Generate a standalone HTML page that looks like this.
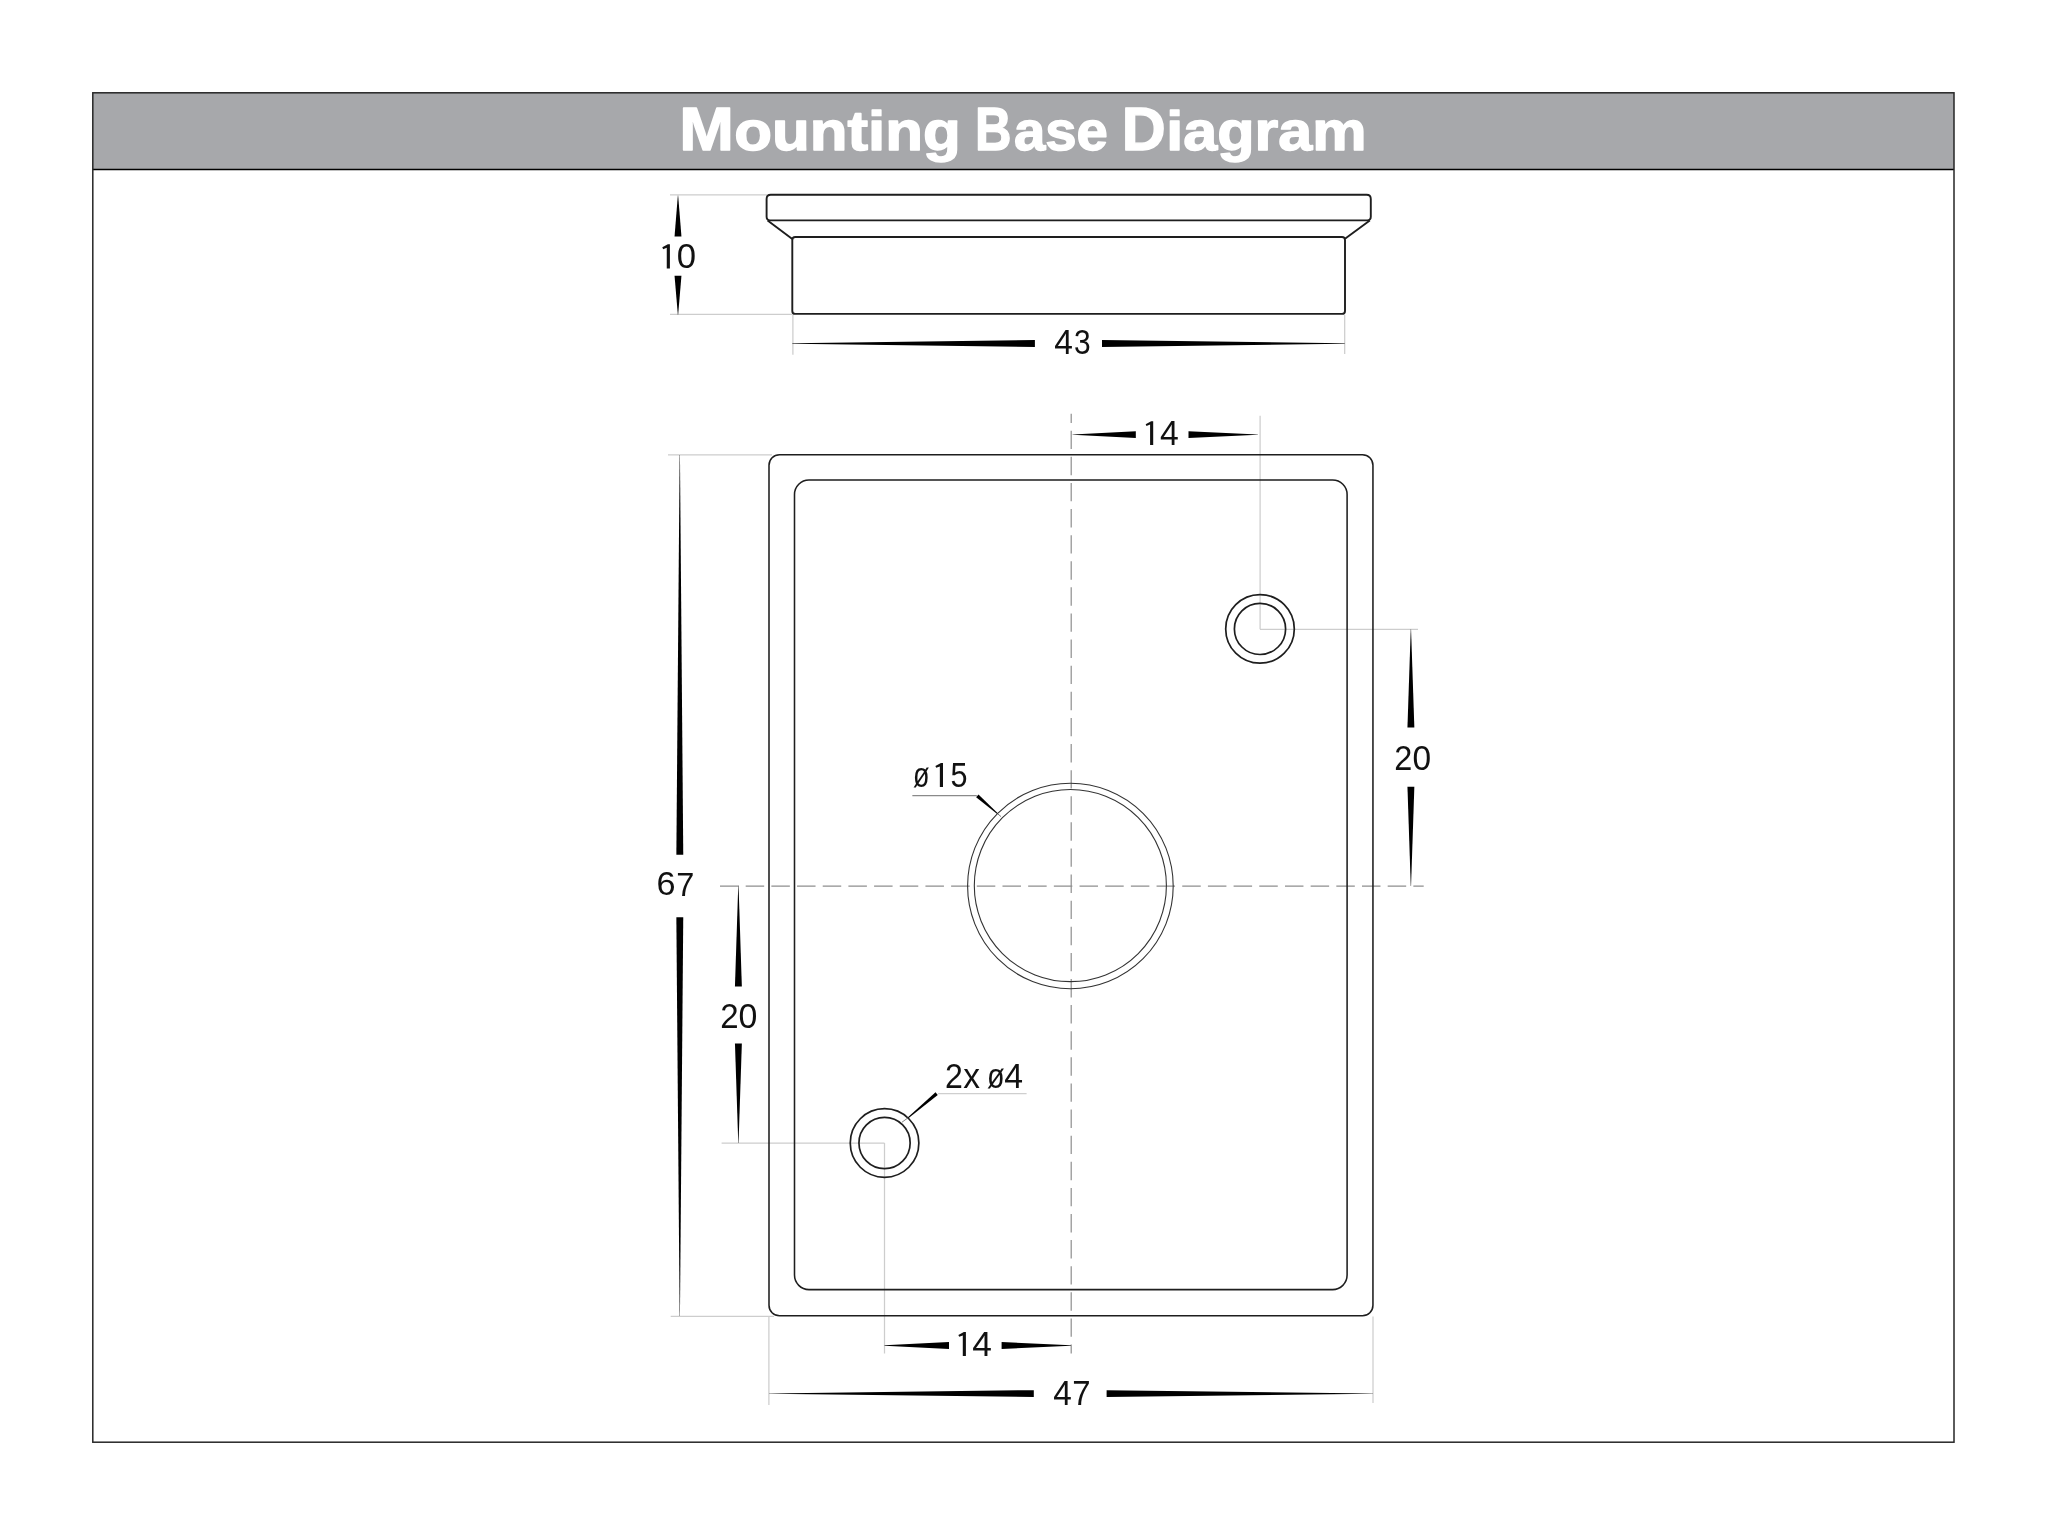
<!DOCTYPE html>
<html><head><meta charset="utf-8"><title>Mounting Base Diagram</title>
<style>html,body{margin:0;padding:0;background:#fff;width:2048px;height:1536px;overflow:hidden}svg{display:block;will-change:transform}text{font-family:"Liberation Sans",sans-serif}</style>
</head><body>
<svg width="2048" height="1536" viewBox="0 0 2048 1536" font-family="Liberation Sans, sans-serif">
<rect x="0" y="0" width="2048" height="1536" fill="#fff"/>
<rect x="92.8" y="92.8" width="1861.2" height="76.6" fill="#a7a8ab"/>
<line x1="92.80" y1="169.50" x2="1954.00" y2="169.50" stroke="#000" stroke-width="1.35" />
<rect x="92.8" y="92.8" width="1861.2" height="1349.4" fill="none" stroke="#262626" stroke-width="1.5"/>
<text transform="translate(679.21 150.40) scale(1.0804 1)" font-size="60.76" font-weight="bold" fill="#fff" stroke="#fff" stroke-width="1.4" stroke-linejoin="round">M</text>
<text transform="translate(734.29 150.40) scale(1.1209 1)" font-size="55.15" font-weight="bold" fill="#fff" stroke="#fff" stroke-width="1.4" stroke-linejoin="round">ounting</text>
<text transform="translate(975.12 150.40) scale(0.8312 1)" font-size="60.76" font-weight="bold" fill="#fff" stroke="#fff" stroke-width="1.4" stroke-linejoin="round">B</text>
<text transform="translate(1013.95 150.40) scale(1.0214 1)" font-size="55.15" font-weight="bold" fill="#fff" stroke="#fff" stroke-width="1.4" stroke-linejoin="round">ase</text>
<text transform="translate(1121.83 150.40) scale(1.0010 1)" font-size="60.76" font-weight="bold" fill="#fff" stroke="#fff" stroke-width="1.4" stroke-linejoin="round">D</text>
<text transform="translate(1166.23 150.40) scale(1.1085 1)" font-size="55.15" font-weight="bold" fill="#fff" stroke="#fff" stroke-width="1.4" stroke-linejoin="round">iagram</text>
<line x1="670.00" y1="194.90" x2="767.00" y2="194.90" stroke="#cdcdcd" stroke-width="1.25" />
<line x1="670.00" y1="314.40" x2="792.00" y2="314.40" stroke="#cdcdcd" stroke-width="1.25" />
<line x1="792.90" y1="314.50" x2="792.90" y2="354.70" stroke="#cdcdcd" stroke-width="1.25" />
<line x1="1344.70" y1="315.00" x2="1344.70" y2="354.00" stroke="#cdcdcd" stroke-width="1.25" />
<line x1="668.00" y1="454.80" x2="772.00" y2="454.80" stroke="#cdcdcd" stroke-width="1.25" />
<line x1="1260.10" y1="415.80" x2="1260.10" y2="629.30" stroke="#cdcdcd" stroke-width="1.25" />
<line x1="1260.00" y1="629.30" x2="1418.00" y2="629.30" stroke="#cdcdcd" stroke-width="1.25" />
<line x1="721.60" y1="1143.05" x2="884.50" y2="1143.05" stroke="#cdcdcd" stroke-width="1.25" />
<line x1="884.50" y1="1143.05" x2="884.50" y2="1353.50" stroke="#cdcdcd" stroke-width="1.25" />
<line x1="670.70" y1="1316.30" x2="774.00" y2="1316.30" stroke="#cdcdcd" stroke-width="1.25" />
<line x1="768.90" y1="1316.50" x2="768.90" y2="1405.00" stroke="#cdcdcd" stroke-width="1.25" />
<line x1="1373.00" y1="1316.50" x2="1373.00" y2="1403.00" stroke="#cdcdcd" stroke-width="1.25" />
<line x1="1071.20" y1="413.80" x2="1071.20" y2="1353.40" stroke="#8e8e8e" stroke-width="1.2" stroke-dasharray="18.4 7.71" stroke-dashoffset="9.21"/>
<line x1="720.00" y1="886.10" x2="1423.70" y2="886.10" stroke="#8e8e8e" stroke-width="1.2" stroke-dasharray="18.5 7.18"/>
<line x1="912.35" y1="795.65" x2="976.80" y2="795.65" stroke="#8a8a8a" stroke-width="1.1" />
<line x1="938.10" y1="1093.60" x2="1026.60" y2="1093.60" stroke="#cfcfcf" stroke-width="1.1" />
<path d="M770.80 194.70 H1366.60 Q1370.80 194.70 1370.80 198.90 V216.85 Q1370.80 220.35 1367.30 220.35 H770.10 Q766.60 220.35 766.60 216.85 V198.90 Q766.60 194.70 770.80 194.70 Z" fill="none" stroke="#1e1e1e" stroke-width="1.9"/>
<path d="M767.6 220.6 L792.3 239.0 M1369.8 220.6 L1345.0 238.8" fill="none" stroke="#1e1e1e" stroke-width="1.9"/>
<path d="M795.30 237.05 H1342.00 Q1345.00 237.05 1345.00 240.05 V310.90 Q1345.00 313.90 1342.00 313.90 H795.30 Q792.30 313.90 792.30 310.90 V240.05 Q792.30 237.05 795.30 237.05 Z" fill="none" stroke="#1e1e1e" stroke-width="1.9"/>
<path d="M677.85 195.40 L674.55 236.60 L681.45 236.60 L678.15 195.40 Z" fill="#000"/>
<path d="M677.85 314.80 L674.55 275.70 L681.45 275.70 L678.15 314.80 Z" fill="#000"/>
<path d="M669.90 244.35 L669.90 268.50 L666.76 268.50 L666.76 247.85 L663.14 249.30 L662.29 247.37 L667.85 244.35 Z" fill="#111"/>
<text transform="translate(676.84 268.30) scale(0.9970 1)" font-size="34.83" fill="#111">0</text>
<path d="M792.30 343.35 L1034.90 340.05 L1034.90 346.95 L792.30 343.65 Z" fill="#000"/>
<path d="M1344.70 343.35 L1102.00 340.05 L1102.00 346.95 L1344.70 343.65 Z" fill="#000"/>
<text transform="translate(1054.33 354.45) scale(0.9629 1)" font-size="34.83" fill="#111">4</text>
<text transform="translate(1074.06 354.25) scale(0.8599 1)" font-size="34.83" fill="#111">3</text>
<rect x="769.0" y="454.7" width="603.95" height="861.1" rx="10.5" fill="none" stroke="#1e1e1e" stroke-width="1.55"/>
<rect x="794.5" y="480.0" width="552.6" height="809.6" rx="14.5" fill="none" stroke="#1e1e1e" stroke-width="1.55"/>
<circle cx="1260" cy="628.9" r="34.3" fill="none" stroke="#1e1e1e" stroke-width="1.7"/>
<circle cx="1260" cy="628.9" r="25.6" fill="none" stroke="#1e1e1e" stroke-width="1.7"/>
<circle cx="884.55" cy="1143.0" r="34.3" fill="none" stroke="#1e1e1e" stroke-width="1.7"/>
<circle cx="884.55" cy="1143.0" r="25.6" fill="none" stroke="#1e1e1e" stroke-width="1.7"/>
<circle cx="1070.4" cy="886.0" r="102.8" fill="none" stroke="#333" stroke-width="1.1"/>
<circle cx="1070.35" cy="885.6" r="96.05" fill="none" stroke="#333" stroke-width="1.1"/>
<path d="M1072.50 434.45 L1135.80 431.15 L1135.80 438.05 L1072.50 434.75 Z" fill="#000"/>
<path d="M1258.00 434.45 L1188.50 431.15 L1188.50 438.05 L1258.00 434.75 Z" fill="#000"/>
<path d="M1153.20 421.15 L1153.20 445.10 L1150.09 445.10 L1150.09 424.62 L1146.49 426.06 L1145.66 424.14 L1151.16 421.15 Z" fill="#111"/>
<text transform="translate(1160.03 445.10) scale(0.9767 1)" font-size="34.54" fill="#111">4</text>
<path d="M679.65 455.00 L676.35 854.70 L683.25 854.70 L679.95 455.00 Z" fill="#000"/>
<path d="M679.65 1316.00 L676.35 917.20 L683.25 917.20 L679.95 1316.00 Z" fill="#000"/>
<text transform="translate(656.46 895.40) scale(1.0103 1)" font-size="33.89" fill="#111">6</text>
<text transform="translate(676.13 895.60) scale(0.9606 1)" font-size="33.89" fill="#111">7</text>
<path d="M1410.75 629.30 L1407.45 727.50 L1414.35 727.50 L1411.05 629.30 Z" fill="#000"/>
<path d="M1410.75 886.00 L1407.45 786.80 L1414.35 786.80 L1411.05 886.00 Z" fill="#000"/>
<text transform="translate(1394.37 770.40) scale(0.9425 1)" font-size="34.47" fill="#111">2</text>
<text transform="translate(1412.59 770.20) scale(0.9710 1)" font-size="34.47" fill="#111">0</text>
<path d="M738.25 885.60 L734.95 986.40 L741.85 986.40 L738.55 885.60 Z" fill="#000"/>
<path d="M738.25 1143.05 L734.95 1043.40 L741.85 1043.40 L738.55 1143.05 Z" fill="#000"/>
<text transform="translate(720.29 1028.40) scale(0.9544 1)" font-size="34.61" fill="#111">2</text>
<text transform="translate(738.48 1028.20) scale(0.9791 1)" font-size="34.61" fill="#111">0</text>
<path d="M884.50 1345.35 L949.00 1342.05 L949.00 1348.95 L884.50 1345.65 Z" fill="#000"/>
<path d="M1071.00 1345.35 L1001.60 1342.05 L1001.60 1348.95 L1071.00 1345.65 Z" fill="#000"/>
<path d="M965.90 1331.95 L965.90 1355.90 L962.79 1355.90 L962.79 1335.42 L959.19 1336.86 L958.36 1334.94 L963.86 1331.95 Z" fill="#111"/>
<text transform="translate(972.19 1355.90) scale(1.0226 1)" font-size="34.54" fill="#111">4</text>
<path d="M769.00 1393.45 L1033.80 1390.15 L1033.80 1397.05 L769.00 1393.75 Z" fill="#000"/>
<path d="M1373.00 1393.45 L1106.60 1390.15 L1106.60 1397.05 L1373.00 1393.75 Z" fill="#000"/>
<text transform="translate(1053.23 1404.90) scale(0.9652 1)" font-size="34.54" fill="#111">4</text>
<text transform="translate(1072.31 1404.90) scale(0.9553 1)" font-size="34.54" fill="#111">7</text>
<path d="M976.14 797.21 L997.20 814.04 L997.80 813.36 L978.46 794.59 Z" fill="#000"/>
<line x1="997.30" y1="813.50" x2="1001.00" y2="816.60" stroke="#555" stroke-width="0.8" />
<text transform="translate(913.12 787.10) scale(0.7739 1)" font-size="34.90" fill="#111">ø</text>
<path d="M943.00 762.90 L943.00 787.10 L939.85 787.10 L939.85 766.41 L936.22 767.86 L935.38 765.92 L940.94 762.90 Z" fill="#111"/>
<text transform="translate(950.58 786.90) scale(0.8762 1)" font-size="34.90" fill="#111">5</text>
<path d="M935.55 1092.30 L907.65 1117.38 L908.35 1118.22 L937.75 1094.90 Z" fill="#000"/>
<line x1="908.30" y1="1117.60" x2="902.00" y2="1122.20" stroke="#666" stroke-width="0.8" />
<text transform="translate(944.99 1087.60) scale(0.9220 1)" font-size="34.76" fill="#111">2</text>
<text transform="translate(963.22 1087.60) scale(0.9630 1)" font-size="34.76" fill="#111">x</text>
<text transform="translate(987.08 1087.60) scale(0.8279 1)" font-size="34.76" fill="#111">ø</text>
<text transform="translate(1004.23 1087.60) scale(0.9706 1)" font-size="34.76" fill="#111">4</text>
</svg>
</body></html>
